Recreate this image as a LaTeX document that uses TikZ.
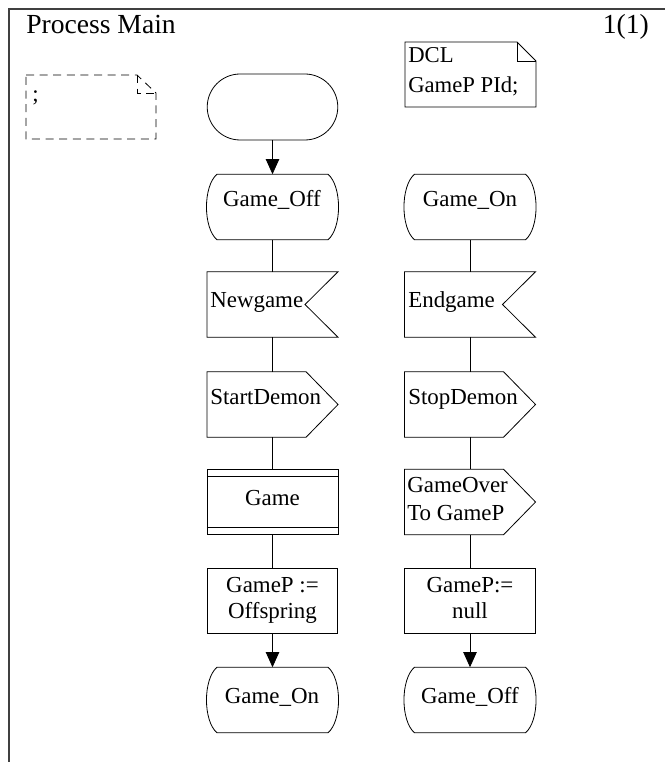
\documentclass[tikz,border=0pt]{standalone}
\usepackage{fontspec}
\setmainfont{Liberation Serif}
\usetikzlibrary{arrows.meta,calc}

\newcommand\symfont{\fontsize{17.2pt}{20.25pt}\selectfont}
\newcommand\headfont{\fontsize{20.7pt}{24pt}\selectfont}
\newcommand\notefont{\fontsize{17pt}{20pt}\selectfont}

% SDL state: flat top and bottom, sides bulging outwards
\newcommand\drawstate[1]{%
  \draw[symline] ($(#1.north west)+(10,0)$) -- ($(#1.north east)+(-10,0)$)
    .. controls ($(#1.north east)+(4,12)$) and ($(#1.south east)+(4,-12)$) .. ($(#1.south east)+(-10,0)$)
    -- ($(#1.south west)+(10,0)$)
    .. controls ($(#1.south west)+(-4,-12)$) and ($(#1.north west)+(-4,12)$) .. ($(#1.north west)+(10,0)$)
    -- cycle;}
% SDL input: notch cut into the right side
\newcommand\drawinput[1]{%
  \draw[symline] (#1.north west) -- (#1.north east) -- ($(#1.east)+(-33,0)$)
    -- (#1.south east) -- (#1.south west) -- cycle;}
% SDL output: point on the right side
\newcommand\drawoutput[1]{%
  \draw[symline] (#1.north west) -- ($(#1.north east)+(-32,0)$) -- (#1.east)
    -- ($(#1.south east)+(-32,0)$) -- (#1.south west) -- cycle;}
% SDL procedure call: box with doubled top and bottom edges
\newcommand\drawproc[1]{%
  \draw[symline] (#1.north west) rectangle (#1.south east);
  \draw[symline] ($(#1.north west)+(0,7)$) -- ($(#1.north east)+(0,7)$)
                 ($(#1.south west)+(0,-7)$) -- ($(#1.south east)+(0,-7)$);}

\begin{document}
\begin{tikzpicture}[
  x=0.75pt, y=-0.75pt,
  symline/.style={line width=0.6pt, black},
  box/.style={rectangle, draw=none, inner sep=0pt,
    minimum width=97.9pt, minimum height=48.75pt},
  taskbox/.style={box, draw, symline},
  startbox/.style={box, draw, symline, minimum height=49.5pt, rounded corners=24.7pt},
  lbl/.style={inner sep=0pt, font=\symfont},
  flow/.style={symline},
  flowarrow/.style={symline, -{Triangle[length=11.25pt,width=10pt]}},
  frame/.style={line width=1pt, black!75},
  notebox/.style={line width=0.6pt, black},
  commentbox/.style={line width=0.6pt, black, dash pattern=on 6pt off 4.2pt},
]
\useasboundingbox (0,0) rectangle (665,762);

% page frame and heading
\draw[frame] (9,762) -- (9,9) -- (665,9);
\node[lbl, anchor=base west, font=\headfont] (title) at (26,34) {Process Main};
\node[lbl, anchor=base east, font=\headfont] (page) at (649,34) {1(1)};

% comment (dashed) and declaration note
\draw[commentbox] (26,75) -- (137,75) -- (156,93) -- (156,139) -- (26,139) -- cycle;
\draw[commentbox] (137,75) -- (137,93) -- (156,93);
\node[lbl, anchor=base west] (cmt) at (32,102) {;};

\draw[notebox] (405,42) -- (517,42) -- (536,61) -- (536,107) -- (405,107) -- cycle;
\draw[notebox] (517,42) -- (517,61) -- (536,61);
\node[lbl, anchor=base west, font=\notefont] (dclA) at (408,63) {DCL};
\node[lbl, anchor=base west, font=\notefont] (dclB) at (408,93) {GameP PId;};

% left column
\node[startbox] (start) at (272.5,107) {};
\node[box] (offA) at (272.5,207) {};
\node[box] (newg) at (272.5,304.5) {};
\node[box] (sdem) at (272.5,404.5) {};
\node[box] (game) at (272.5,502) {};
\node[taskbox] (setA) at (272.5,601) {};
\node[box] (onB) at (272.5,700) {};

% right column
\node[box] (onA) at (470,207) {};
\node[box] (endg) at (470,304.5) {};
\node[box] (tdem) at (470,404.5) {};
\node[box] (over) at (470,502) {};
\node[taskbox] (setB) at (470,601) {};
\node[box] (offB) at (470,700) {};

\drawstate{offA}
\drawinput{newg}
\drawoutput{sdem}
\drawproc{game}
\drawstate{onB}

\drawstate{onA}
\drawinput{endg}
\drawoutput{tdem}
\drawoutput{over}
\drawstate{offB}

% symbol texts
\node[lbl, anchor=base] (tOffA) at (272,207) {Game\_Off};
\node[lbl, anchor=base west] (tNew) at (210,307) {Newgame};
\node[lbl, anchor=base west] (tSD) at (210,404) {StartDemon};
\node[lbl, anchor=base] (tGame) at (272.5,505) {Game};
\node[lbl, anchor=base] (tSetA1) at (272.5,592) {GameP :=};
\node[lbl, anchor=base] (tSetA2) at (272.5,618) {Offspring};
\node[lbl, anchor=base] (tOnB) at (272,703) {Game\_On};

\node[lbl, anchor=base] (tOnA) at (470,207) {Game\_On};
\node[lbl, anchor=base west] (tEnd) at (408,307) {Endgame};
\node[lbl, anchor=base west] (tTD) at (408,404) {StopDemon};
\node[lbl, anchor=base west] (tOv1) at (407,492) {GameOver};
\node[lbl, anchor=base west] (tOv2) at (407,520) {To GameP};
\node[lbl, anchor=base] (tSetB1) at (470,592) {GameP:=};
\node[lbl, anchor=base] (tSetB2) at (470,618) {null};
\node[lbl, anchor=base] (tOffB) at (470,703) {Game\_Off};

% flow lines
\draw[flowarrow] (start) -- (offA);
\draw[flow] (offA) -- (newg);
\draw[flow] (newg) -- (sdem);
\draw[flow] (sdem) -- (game);
\draw[flow] (game) -- (setA);
\draw[flowarrow] (setA) -- (onB);

\draw[flow] (onA) -- (endg);
\draw[flow] (endg) -- (tdem);
\draw[flow] (tdem) -- (over);
\draw[flow] (over) -- (setB);
\draw[flowarrow] (setB) -- (offB);
\end{tikzpicture}
\end{document}
